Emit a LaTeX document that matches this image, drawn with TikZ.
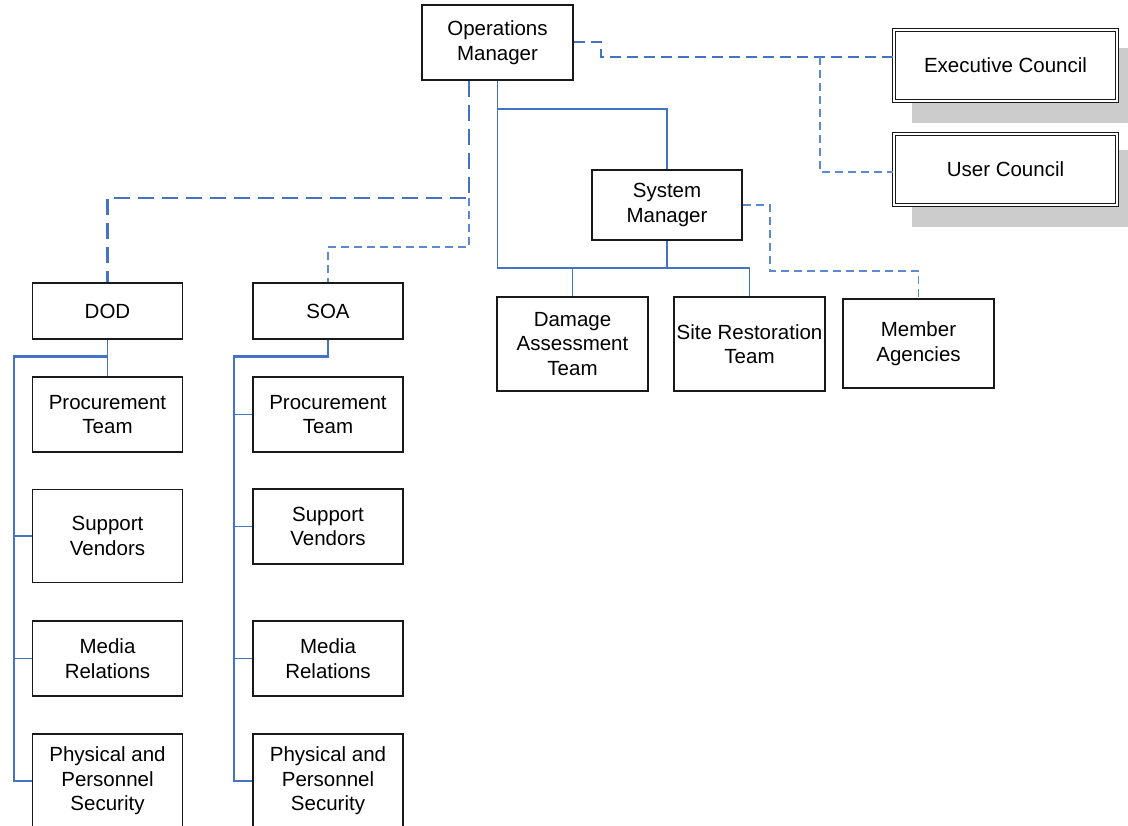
\documentclass[tikz,border=0pt]{standalone}
\usepackage{fontspec}
\setmainfont{Liberation Sans}
\definecolor{lnblue}{RGB}{68,114,196}
\definecolor{lnblue2}{RGB}{92,137,210}
\definecolor{shadowgray}{RGB}{204,204,204}
\tikzset{
  box/.style={draw=black!90, line width=1.4pt, fill=white, align=center, inner sep=0pt,
    font=\fontsize{20.5}{24.5}\selectfont},
  dbox/.style={box, double=white, double distance=2pt, line width=1.1pt},
  solidln/.style={draw=lnblue, line width=1.9pt},
  busln/.style={draw=lnblue, line width=2.6pt},
  longdash/.style={draw=lnblue, line width=2.6pt, dash pattern=on 16pt off 8pt},
  shortdash/.style={draw=lnblue2, line width=1.7pt, dash pattern=on 8pt off 5pt},
  middash/.style={draw=lnblue, line width=2pt, dash pattern=on 11pt off 6pt},
}
\begin{document}
\begin{tikzpicture}[x=1pt,y=-1pt]
\useasboundingbox (0,0) rectangle (1128,826);
\clip (0,0) rectangle (1128,826);
\fill[white] (0,0) rectangle (1128,826);

% shadows of the council boxes
\fill[shadowgray] (912,48) rectangle (1139,123);
\fill[shadowgray] (912,150) rectangle (1139,227);

% nodes
\node[box, minimum width=151pt, minimum height=75pt] (om) at (497.5,42.5) {Operations\\Manager};
\node[dbox, minimum width=223pt, minimum height=71.5pt] (ec) at (1005.5,65.5) {Executive Council};
\node[dbox, minimum width=223pt, minimum height=71pt] (uc) at (1005.5,169.5) {User Council};
\node[box, minimum width=150pt, minimum height=70pt] (sm) at (667,205) {System\\Manager};

\node[box, minimum width=150pt, minimum height=56pt] (dod) at (107.5,311) {DOD};
\node[box, minimum width=150pt, minimum height=56pt] (soa) at (328,311) {SOA};

\node[box, minimum width=151pt, minimum height=94pt] (dat) at (572.5,344) {Damage\\Assessment\\Team};
\node[box, minimum width=151pt, minimum height=94pt] (srt) at (749.5,344) {Site Restoration\\Team};
\node[box, minimum width=151pt, minimum height=89pt] (ma) at (918.5,343.5) {Member\\Agencies};

\node[box, minimum width=150pt, minimum height=75pt] (proc1) at (107.5,414.5) {Procurement\\Team};
\node[box, minimum width=150pt, minimum height=93pt] (supp1) at (107.5,536) {Support\\Vendors};
\node[box, minimum width=150pt, minimum height=75pt] (media1) at (107.5,658.5) {Media\\Relations};
\node[box, minimum width=150pt, minimum height=94pt] (phys1) at (107.5,781) {Physical and\\Personnel\\Security};

\node[box, minimum width=150pt, minimum height=75pt] (proc2) at (328,414.5) {Procurement\\Team};
\node[box, minimum width=150pt, minimum height=75pt] (supp2) at (328,526.5) {Support\\Vendors};
\node[box, minimum width=150pt, minimum height=75pt] (media2) at (328,658.5) {Media\\Relations};
\node[box, minimum width=150pt, minimum height=94pt] (phys2) at (328,781) {Physical and\\Personnel\\Security};

% helper coordinates
\coordinate (busy) at (0,268);
\coordinate (dx) at (469,0);
\coordinate (j1) at (469,198);
\coordinate (j2) at (469,247);
\coordinate (e1) at (601,57);
\coordinate (e2) at (820,57);
\coordinate (e3) at (820,172);
\coordinate (m1) at (770,271);
\coordinate (bx1) at (14,0);
\coordinate (bx2) at (234,0);

% solid links of the operations manager and system manager
\draw[solidln] (om.south) -- ++(0,28) -| (sm.north);
\draw[solidln] (om.south) |- (srt.north |- busy) -- (srt.north);
\draw[solidln] (sm.south) -- (sm.south |- busy);
\draw[solidln] (dat.north |- busy) -- (dat.north);

% dashed links to DOD and SOA
\draw[longdash] (om.south -| dx) -- (j1) -| (dod.north);
\draw[shortdash] (j1) -- (j2) -| (soa.north);

% dashed links to the councils
\draw[middash] (om.east) -| (e1) -- (ec.west |- e1);
\draw[shortdash] (e2) -- (e3) -- (uc.west |- e3);

% dashed link to member agencies
\draw[shortdash] (sm.east) -| (m1) -| (ma.north);

% DOD column
\draw[solidln] (dod.south) -- (proc1.north);
\draw[busln] (dod.south) ++(0,17) -| (phys1.west -| bx1) -- (phys1.west);
\draw[solidln] (supp1.west) -- (supp1.west -| bx1);
\draw[solidln] (media1.west) -- (media1.west -| bx1);

% SOA column
\draw[busln] (soa.south) -- ++(0,17) -| (phys2.west -| bx2) -- (phys2.west);
\draw[solidln] (proc2.west) -- (proc2.west -| bx2);
\draw[solidln] (supp2.west) -- (supp2.west -| bx2);
\draw[solidln] (media2.west) -- (media2.west -| bx2);
\end{tikzpicture}
\end{document}
